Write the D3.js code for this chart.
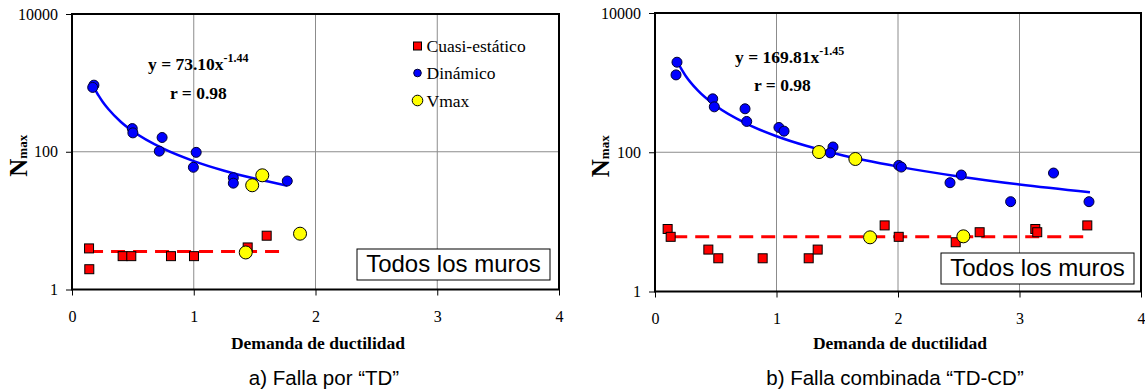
<!DOCTYPE html>
<html>
<head>
<meta charset="utf-8">
<script src="https://cdn.jsdelivr.net/npm/d3@7"></script>
<style>
    html, body { margin: 0; padding: 0; background: #fff; }
    svg { display: block; }
</style>
</head>
<body>
<div id="chart"></div>
<script>
// ticks
const xTicks = [0, 1, 2, 3, 4];
const yTicks = [1, 100, 10000];
const legendNames = ['Cuasi-estático', 'Dinámico', 'Vmax'];

// a) Falla por "TD"
const cuasiA_x = [0.14, 0.142, 0.416, 0.487, 0.813, 1.002, 1.443, 1.599];
const cuasiA_n = [3.95, 1.97, 3.05, 3.05, 3.05, 3.05, 4.08, 6.04];
const dinA_x = [0.18, 0.17, 0.495, 0.50, 0.74, 0.717, 1.02, 0.997, 1.325, 1.325, 1.768];
const dinA_n = [927, 859, 217, 188, 161, 102, 98, 59.5, 42, 35, 37.6];
const vmaxA_x = [1.48, 1.563, 1.427, 1.873];
const vmaxA_n = [32.6, 45.5, 3.45, 6.46];
const fitA_x = [0.18, 0.22, 0.25, 0.3, 0.4, 0.5, 0.75, 1.0, 1.25, 1.5, 1.77];
const fitA_n = [863, 647, 538, 414, 273, 198, 110.6, 73.1, 53, 40.8, 32.1];
const meanA_x = [0.14, 1.74];
const meanA_n = [3.57, 3.57];

// b) Falla combinada "TD-CD"
const cuasiB_x = [0.104, 0.129, 0.439, 0.521, 0.886, 1.265, 1.339, 1.89, 2.006, 2.475, 2.672, 3.13, 3.146, 3.558];
const cuasiB_n = [7.9, 6.1, 4.0, 3.0, 3.0, 3.0, 4.0, 8.9, 6.1, 5.1, 7.1, 7.9, 7.1, 8.9];
const dinB_x = [0.181, 0.173, 0.475, 0.488, 0.741, 0.755, 1.02, 1.062, 1.465, 1.443, 2.006, 2.027, 2.428, 2.521, 2.927, 3.28, 3.572];
const dinB_n = [1964, 1291, 585, 449, 421, 277, 227, 201, 119, 98, 64.7, 61.3, 36.5, 47.1, 19.5, 50.3, 19.5];
const vmaxB_x = [1.35, 1.649, 1.77, 2.538];
const vmaxB_n = [100.7, 80, 6.0, 6.2];
const fitB_x = [0.19, 0.25, 0.35, 0.5, 0.75, 1.0, 1.25, 1.5, 2.0, 2.5, 3.0, 3.58];
const fitB_n = [1887, 1267, 778, 464, 258, 170, 123, 94.3, 62.2, 45.0, 34.5, 26.7];
const meanB_x = [0.15, 3.567];
const meanB_n = [6.1, 6.1];

const SERIF = '"Liberation Serif", "Times New Roman", serif';
const SANS = '"Liberation Sans", Arial, sans-serif';

const svg = d3.select('#chart')
    .append('svg')
    .attr('width', 1145)
    .attr('height', 391);

svg.append('rect').attr('width', 1145).attr('height', 391).attr('fill', '#fff');

const zip = (xs, ys) => xs.map((x, i) => [x, ys[i]]);

function drawPanel(p) {
    const x = d3.scaleLinear().domain([0, 4]).range([p.left, p.right]);
    const y = d3.scaleLog().domain([1, 10000]).range([p.bottom, p.top]);
    const g = svg.append('g');

    // grid
    g.selectAll('.vgrid')
        .data(xTicks.slice(1, -1))
        .enter()
        .append('line')
        .attr('x1', d => x(d)).attr('x2', d => x(d))
        .attr('y1', p.top).attr('y2', p.bottom)
        .attr('stroke', '#8c8c8c').attr('stroke-width', 1);
    g.append('line')
        .attr('x1', p.left).attr('x2', p.right)
        .attr('y1', y(100)).attr('y2', y(100))
        .attr('stroke', '#8c8c8c').attr('stroke-width', 1);

    // axes
    const yAxis = g.append('g')
        .attr('transform', `translate(${p.left},0)`)
        .call(d3.axisLeft(y).tickValues(yTicks).tickFormat(d3.format('d')).tickSize(6).tickPadding(8));
    const xAxis = g.append('g')
        .attr('transform', `translate(0,${p.bottom})`)
        .call(d3.axisBottom(x).tickValues(xTicks).tickFormat(d3.format('d')).tickSize(6).tickPadding(15));
    [yAxis, xAxis].forEach(a => {
        a.select('.domain').remove();
        a.selectAll('text').attr('font-family', SERIF).attr('font-size', 16).attr('fill', '#000');
        a.selectAll('line').attr('stroke', '#000');
    });

    // frame
    g.append('rect')
        .attr('x', p.left).attr('y', p.top)
        .attr('width', p.right - p.left).attr('height', p.bottom - p.top)
        .attr('fill', 'none').attr('stroke', '#000').attr('stroke-width', 2);

    // mean line (cuasi-estatico)
    const line = d3.line().x(d => x(d[0])).y(d => y(d[1]));
    g.append('path')
        .datum(zip(p.meanX, p.meanN))
        .attr('d', line)
        .attr('fill', 'none').attr('stroke', '#ff0000')
        .attr('stroke-width', 3).attr('stroke-dasharray', '14,8');

    // fit curve (dinamico)
    g.append('path')
        .datum(zip(p.fitX, p.fitN))
        .attr('d', line.curve(d3.curveMonotoneX))
        .attr('fill', 'none').attr('stroke', '#0000ff').attr('stroke-width', 2.5);

    // cuasi-estatico squares
    g.selectAll('.sq')
        .data(zip(p.cuasiX, p.cuasiN))
        .enter()
        .append('rect')
        .attr('x', d => x(d[0]) - 4.5).attr('y', d => y(d[1]) - 4.5)
        .attr('width', 9).attr('height', 9)
        .attr('fill', '#ff0000').attr('stroke', '#000').attr('stroke-width', 1);

    // dinamico circles
    g.selectAll('.din')
        .data(zip(p.dinX, p.dinN))
        .enter()
        .append('circle')
        .attr('cx', d => x(d[0])).attr('cy', d => y(d[1])).attr('r', 5)
        .attr('fill', '#0000ff').attr('stroke', '#000033').attr('stroke-width', 1);

    // vmax circles
    g.selectAll('.vmax')
        .data(zip(p.vmaxX, p.vmaxN))
        .enter()
        .append('circle')
        .attr('cx', d => x(d[0])).attr('cy', d => y(d[1])).attr('r', 6.5)
        .attr('fill', '#ffff00').attr('stroke', '#000').attr('stroke-width', 1);

    // equation
    const eq = g.append('text')
        .attr('x', p.eqX).attr('y', p.eqY)
        .attr('font-family', SERIF).attr('font-size', 17.5).attr('font-weight', 'bold');
    eq.append('tspan').text(p.eqMain);
    eq.append('tspan').attr('dy', -8).attr('font-size', 12).text(p.eqExp);
    g.append('text')
        .attr('x', p.rX).attr('y', p.rY)
        .attr('font-family', SERIF).attr('font-size', 17.5).attr('font-weight', 'bold')
        .text('r = 0.98');

    // y title
    const yt = g.append('text')
        .attr('transform', `translate(${p.yTitleX},${(p.top + p.bottom) / 2 + 4}) rotate(-90)`)
        .attr('text-anchor', 'middle')
        .attr('font-family', SERIF).attr('font-weight', 'bold');
    yt.append('tspan').attr('font-size', 25).text('N');
    yt.append('tspan').attr('font-size', 13).text('max');

    // x title
    g.append('text')
        .attr('x', p.xTitleX).attr('y', 349)
        .attr('text-anchor', 'middle')
        .attr('font-family', SERIF).attr('font-size', 17.5).attr('font-weight', 'bold')
        .text('Demanda de ductilidad');

    // caption
    g.append('text')
        .attr('x', p.capX).attr('y', 385)
        .attr('text-anchor', 'middle')
        .attr('font-family', SANS).attr('font-size', 20.5)
        .text(p.caption);

    // "Todos los muros" box
    g.append('rect')
        .attr('x', p.boxX).attr('y', p.boxY)
        .attr('width', 193).attr('height', 31)
        .attr('fill', '#fff').attr('stroke', '#000').attr('stroke-width', 1);
    g.append('text')
        .attr('x', p.boxX + 96.5).attr('y', p.boxY + 23)
        .attr('text-anchor', 'middle')
        .attr('font-family', SANS).attr('font-size', 24)
        .text('Todos los muros');

    return g;
}

const gA = drawPanel({
    left: 72, right: 559, top: 14, bottom: 289.5,
    cuasiX: cuasiA_x, cuasiN: cuasiA_n,
    dinX: dinA_x, dinN: dinA_n,
    vmaxX: vmaxA_x, vmaxN: vmaxA_n,
    fitX: fitA_x, fitN: fitA_n,
    meanX: meanA_x, meanN: meanA_n,
    eqMain: 'y = 73.10x', eqExp: '-1.44', eqX: 148, eqY: 70,
    rX: 170, rY: 99,
    yTitleX: 27, xTitleX: 318, capX: 324,
    caption: 'a) Falla por \u201cTD\u201d',
    boxX: 357, boxY: 249
});

drawPanel({
    left: 655, right: 1141, top: 13, bottom: 291.5,
    cuasiX: cuasiB_x, cuasiN: cuasiB_n,
    dinX: dinB_x, dinN: dinB_n,
    vmaxX: vmaxB_x, vmaxN: vmaxB_n,
    fitX: fitB_x, fitN: fitB_n,
    meanX: meanB_x, meanN: meanB_n,
    eqMain: 'y = 169.81x', eqExp: '-1.45', eqX: 735, eqY: 63,
    rX: 754, rY: 91,
    yTitleX: 609, xTitleX: 900, capX: 895,
    caption: 'b) Falla combinada \u201cTD-CD\u201d',
    boxX: 941, boxY: 253
});

// legend (panel a only)
const legend = gA.append('g');
const legendY = [46, 73, 100.5];
legend.append('rect')
    .attr('x', 413.5).attr('y', legendY[0] - 4).attr('width', 8).attr('height', 8)
    .attr('fill', '#ff0000').attr('stroke', '#000').attr('stroke-width', 1);
legend.append('circle')
    .attr('cx', 417.5).attr('cy', legendY[1]).attr('r', 3.8)
    .attr('fill', '#0000ff').attr('stroke', '#000033').attr('stroke-width', 1);
legend.append('circle')
    .attr('cx', 417.5).attr('cy', legendY[2]).attr('r', 5.3)
    .attr('fill', '#ffff00').attr('stroke', '#000').attr('stroke-width', 1);
legend.selectAll('.lt')
    .data(legendNames)
    .enter()
    .append('text')
    .attr('x', 426.5)
    .attr('y', (d, i) => legendY[i] + 6)
    .attr('font-family', SERIF).attr('font-size', 17.5)
    .text(d => d);
</script>
</body>
</html>
